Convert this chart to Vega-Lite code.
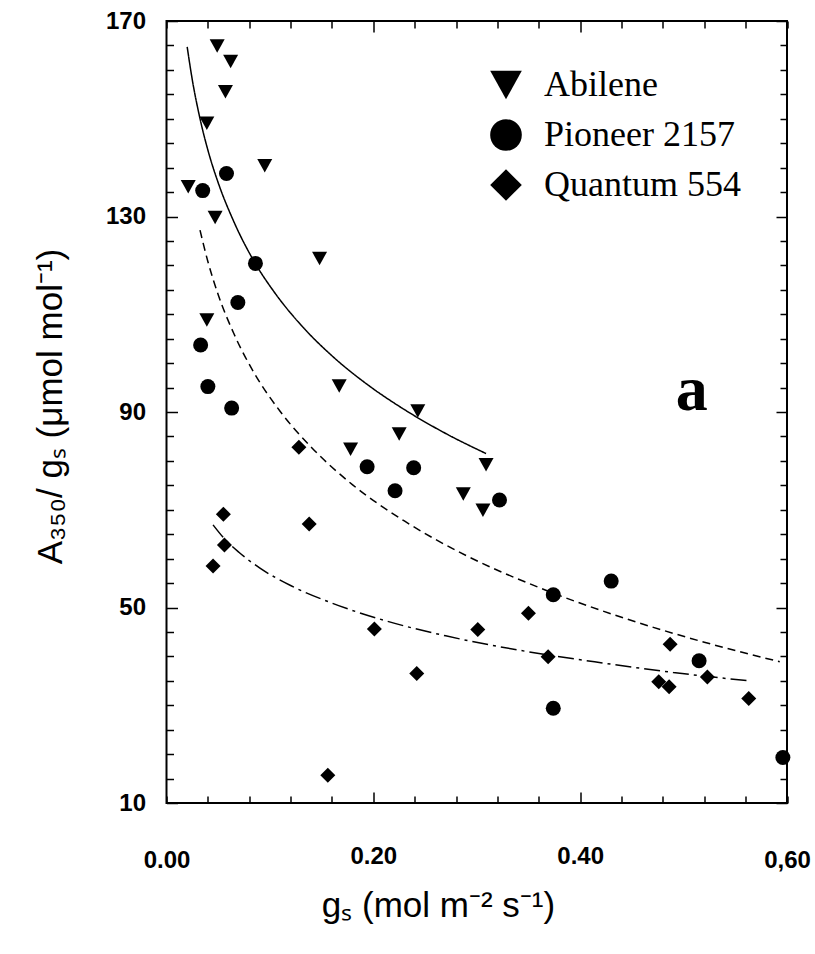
{
  "$schema": "https://vega.github.io/schema/vega-lite/v6.json",
  "width": 620.5,
  "height": 782,
  "autosize": {"type": "none"},
  "padding": {"left": 166.5, "top": 21, "right": 28, "bottom": 151},
  "background": "white",
  "config": {
    "view": {"stroke": "black", "strokeWidth": 2},
    "axis": {"grid": false, "domain": false, "tickColor": "black", "tickWidth": 1.5, "labelColor": "black", "titleColor": "black"}
  },
  "datasets": {
    "points": [
      {"cultivar": "Abilene", "gs": 0.049, "ratio": 164.9},
      {"cultivar": "Abilene", "gs": 0.062, "ratio": 161.7},
      {"cultivar": "Abilene", "gs": 0.057, "ratio": 155.5},
      {"cultivar": "Abilene", "gs": 0.039, "ratio": 149.1},
      {"cultivar": "Abilene", "gs": 0.095, "ratio": 140.4},
      {"cultivar": "Abilene", "gs": 0.021, "ratio": 136.1},
      {"cultivar": "Abilene", "gs": 0.047, "ratio": 129.8},
      {"cultivar": "Abilene", "gs": 0.148, "ratio": 121.4},
      {"cultivar": "Abilene", "gs": 0.039, "ratio": 108.8},
      {"cultivar": "Abilene", "gs": 0.167, "ratio": 95.3},
      {"cultivar": "Abilene", "gs": 0.243, "ratio": 90.2},
      {"cultivar": "Abilene", "gs": 0.225, "ratio": 85.5},
      {"cultivar": "Abilene", "gs": 0.178, "ratio": 82.4},
      {"cultivar": "Abilene", "gs": 0.309, "ratio": 79.2},
      {"cultivar": "Abilene", "gs": 0.287, "ratio": 73.2},
      {"cultivar": "Abilene", "gs": 0.306, "ratio": 69.9},
      {"cultivar": "Pioneer 2157", "gs": 0.058, "ratio": 138.8},
      {"cultivar": "Pioneer 2157", "gs": 0.035, "ratio": 135.3},
      {"cultivar": "Pioneer 2157", "gs": 0.086, "ratio": 120.4},
      {"cultivar": "Pioneer 2157", "gs": 0.069, "ratio": 112.4},
      {"cultivar": "Pioneer 2157", "gs": 0.033, "ratio": 103.7},
      {"cultivar": "Pioneer 2157", "gs": 0.040, "ratio": 95.2},
      {"cultivar": "Pioneer 2157", "gs": 0.063, "ratio": 90.8},
      {"cultivar": "Pioneer 2157", "gs": 0.194, "ratio": 78.8},
      {"cultivar": "Pioneer 2157", "gs": 0.239, "ratio": 78.6},
      {"cultivar": "Pioneer 2157", "gs": 0.221, "ratio": 73.9},
      {"cultivar": "Pioneer 2157", "gs": 0.322, "ratio": 72.0},
      {"cultivar": "Pioneer 2157", "gs": 0.374, "ratio": 52.6},
      {"cultivar": "Pioneer 2157", "gs": 0.430, "ratio": 55.4},
      {"cultivar": "Pioneer 2157", "gs": 0.515, "ratio": 39.1},
      {"cultivar": "Pioneer 2157", "gs": 0.374, "ratio": 29.4},
      {"cultivar": "Pioneer 2157", "gs": 0.596, "ratio": 19.3},
      {"cultivar": "Quantum 554", "gs": 0.128, "ratio": 82.8},
      {"cultivar": "Quantum 554", "gs": 0.055, "ratio": 69.1},
      {"cultivar": "Quantum 554", "gs": 0.138, "ratio": 67.1},
      {"cultivar": "Quantum 554", "gs": 0.056, "ratio": 62.8},
      {"cultivar": "Quantum 554", "gs": 0.045, "ratio": 58.5},
      {"cultivar": "Quantum 554", "gs": 0.201, "ratio": 45.6},
      {"cultivar": "Quantum 554", "gs": 0.242, "ratio": 36.5},
      {"cultivar": "Quantum 554", "gs": 0.156, "ratio": 15.7},
      {"cultivar": "Quantum 554", "gs": 0.301, "ratio": 45.5},
      {"cultivar": "Quantum 554", "gs": 0.350, "ratio": 48.8},
      {"cultivar": "Quantum 554", "gs": 0.369, "ratio": 39.9},
      {"cultivar": "Quantum 554", "gs": 0.487, "ratio": 42.5},
      {"cultivar": "Quantum 554", "gs": 0.476, "ratio": 34.8},
      {"cultivar": "Quantum 554", "gs": 0.486, "ratio": 33.8},
      {"cultivar": "Quantum 554", "gs": 0.523, "ratio": 35.8},
      {"cultivar": "Quantum 554", "gs": 0.563, "ratio": 31.4}
    ],
    "curves": [
      {"cultivar": "Abilene", "gs": 0.020, "ratio": 164.7},
      {"cultivar": "Abilene", "gs": 0.025, "ratio": 157.9},
      {"cultivar": "Abilene", "gs": 0.032, "ratio": 150.4},
      {"cultivar": "Abilene", "gs": 0.040, "ratio": 143.6},
      {"cultivar": "Abilene", "gs": 0.050, "ratio": 136.9},
      {"cultivar": "Abilene", "gs": 0.065, "ratio": 129.0},
      {"cultivar": "Abilene", "gs": 0.085, "ratio": 120.7},
      {"cultivar": "Abilene", "gs": 0.105, "ratio": 114.3},
      {"cultivar": "Abilene", "gs": 0.130, "ratio": 107.8},
      {"cultivar": "Abilene", "gs": 0.160, "ratio": 101.5},
      {"cultivar": "Abilene", "gs": 0.195, "ratio": 95.5},
      {"cultivar": "Abilene", "gs": 0.230, "ratio": 90.5},
      {"cultivar": "Abilene", "gs": 0.270, "ratio": 85.6},
      {"cultivar": "Abilene", "gs": 0.309, "ratio": 81.5},
      {"cultivar": "Pioneer 2157", "gs": 0.0324, "ratio": 127.2},
      {"cultivar": "Pioneer 2157", "gs": 0.040, "ratio": 120.8},
      {"cultivar": "Pioneer 2157", "gs": 0.050, "ratio": 114.0},
      {"cultivar": "Pioneer 2157", "gs": 0.065, "ratio": 106.1},
      {"cultivar": "Pioneer 2157", "gs": 0.085, "ratio": 97.9},
      {"cultivar": "Pioneer 2157", "gs": 0.110, "ratio": 90.1},
      {"cultivar": "Pioneer 2157", "gs": 0.140, "ratio": 82.8},
      {"cultivar": "Pioneer 2157", "gs": 0.180, "ratio": 75.1},
      {"cultivar": "Pioneer 2157", "gs": 0.230, "ratio": 67.7},
      {"cultivar": "Pioneer 2157", "gs": 0.290, "ratio": 60.6},
      {"cultivar": "Pioneer 2157", "gs": 0.360, "ratio": 54.1},
      {"cultivar": "Pioneer 2157", "gs": 0.440, "ratio": 48.0},
      {"cultivar": "Pioneer 2157", "gs": 0.520, "ratio": 42.9},
      {"cultivar": "Pioneer 2157", "gs": 0.593, "ratio": 38.9},
      {"cultivar": "Quantum 554", "gs": 0.045, "ratio": 66.9},
      {"cultivar": "Quantum 554", "gs": 0.055, "ratio": 64.3},
      {"cultivar": "Quantum 554", "gs": 0.070, "ratio": 61.3},
      {"cultivar": "Quantum 554", "gs": 0.090, "ratio": 58.1},
      {"cultivar": "Quantum 554", "gs": 0.120, "ratio": 54.5},
      {"cultivar": "Quantum 554", "gs": 0.160, "ratio": 50.9},
      {"cultivar": "Quantum 554", "gs": 0.210, "ratio": 47.4},
      {"cultivar": "Quantum 554", "gs": 0.270, "ratio": 44.2},
      {"cultivar": "Quantum 554", "gs": 0.340, "ratio": 41.3},
      {"cultivar": "Quantum 554", "gs": 0.420, "ratio": 38.7},
      {"cultivar": "Quantum 554", "gs": 0.490, "ratio": 36.7},
      {"cultivar": "Quantum 554", "gs": 0.563, "ratio": 35.0}
    ],
    "annot": [
      {"gs": 0.508, "ratio": 90.4, "label": "a"}
    ]
  },
  "layer": [
    {
      "data": {"name": "curves"},
      "mark": {"type": "line", "color": "black", "strokeWidth": 1.5, "interpolate": "monotone"},
      "encoding": {
        "x": {"field": "gs", "type": "quantitative", "scale": {"domain": [0, 0.6], "nice": false, "zero": false},
          "axis": {"orient": "top", "values": [0, 0.04, 0.08, 0.12, 0.16, 0.2, 0.24, 0.28, 0.32, 0.36, 0.4, 0.44, 0.48, 0.52, 0.56, 0.6], "labels": false, "title": null,
            "tickSize": {"condition": {"test": "datum.value == 0.2 || datum.value == 0.4", "value": -11}, "value": -7}}},
        "y": {"field": "ratio", "type": "quantitative", "scale": {"domain": [10, 170], "nice": false, "zero": false},
          "axis": {"orient": "right", "values": [10, 15, 20, 25, 30, 35, 40, 45, 50, 55, 60, 65, 70, 75, 80, 85, 90, 95, 100, 105, 110, 115, 120, 125, 130, 135, 140, 145, 150, 155, 160, 165, 170], "labels": false, "title": null,
            "tickSize": {"condition": {"test": "(datum.value - 10) % 40 == 0", "value": -11}, "value": -7}}},
        "detail": {"field": "cultivar", "type": "nominal"},
        "strokeDash": {"field": "dash", "type": "nominal", "scale": {"domain": ["solid", "dashed", "dashdot"], "range": [[1, 0], [8, 5], [16, 5, 3, 5]]}, "legend": null}
      },
      "transform": [
        {"lookup": "cultivar", "from": {"data": {"values": [{"cultivar": "Abilene", "dash": "solid"}, {"cultivar": "Pioneer 2157", "dash": "dashed"}, {"cultivar": "Quantum 554", "dash": "dashdot"}]}, "key": "cultivar", "fields": ["dash"]}}
      ]
    },
    {
      "data": {"name": "points"},
      "mark": {"type": "point", "filled": true, "color": "black", "opacity": 1, "size": 225, "strokeWidth": 0},
      "encoding": {
        "x": {"field": "gs", "type": "quantitative", "scale": {"domain": [0, 0.6], "nice": false, "zero": false},
          "axis": {"orient": "bottom", "values": [0, 0.04, 0.08, 0.12, 0.16, 0.2, 0.24, 0.28, 0.32, 0.36, 0.4, 0.44, 0.48, 0.52, 0.56, 0.6],
            "labelExpr": "datum.value == 0 ? '0.00' : datum.value == 0.2 ? '0.20' : datum.value == 0.4 ? '0.40' : datum.value == 0.6 ? '0,60' : ''",
            "labelFont": "Liberation Sans", "labelFontSize": 24, "labelFontWeight": "bold", "labelPadding": 52, "labelFlush": false, "labelOverlap": false,
            "tickSize": {"condition": {"test": "datum.value == 0.2 || datum.value == 0.4", "value": -11}, "value": -7},
            "title": "gₛ (mol m⁻² s⁻¹)", "titleFont": "Liberation Sans", "titleFontSize": 35, "titleFontWeight": "normal",
            "titleX": 271.5, "titleY": 102, "titleBaseline": "middle", "titleAlign": "center"}},
        "y": {"field": "ratio", "type": "quantitative", "scale": {"domain": [10, 170], "nice": false, "zero": false},
          "axis": {"orient": "left", "values": [10, 15, 20, 25, 30, 35, 40, 45, 50, 55, 60, 65, 70, 75, 80, 85, 90, 95, 100, 105, 110, 115, 120, 125, 130, 135, 140, 145, 150, 155, 160, 165, 170],
            "labelExpr": "(datum.value - 10) % 40 == 0 ? format(datum.value, 'd') : ''",
            "labelFont": "Liberation Sans", "labelFontSize": 24, "labelFontWeight": "bold", "labelPadding": 32, "labelFlush": false, "labelOverlap": false,
            "tickSize": {"condition": {"test": "(datum.value - 10) % 40 == 0", "value": -11}, "value": -7},
            "title": "A₃₅₀/ gₛ  (μmol mol⁻¹)", "titleFont": "Liberation Sans", "titleFontSize": 35, "titleFontWeight": "normal",
            "titleX": -116.5, "titleY": 385, "titleBaseline": "middle", "titleAlign": "center", "titleAngle": -90}},
        "shape": {"field": "cultivar", "type": "nominal", "scale": {"domain": ["Abilene", "Pioneer 2157", "Quantum 554"], "range": ["M-1,-0.9L1,-0.9L0,0.9Z", "circle", "diamond"]},
          "legend": {"title": null, "orient": "none", "legendX": 321.5, "legendY": 46, "padding": 0,
            "labelFont": "Liberation Serif", "labelFontSize": 36, "labelColor": "black", "labelLimit": 400, "labelOffset": 20,
            "symbolSize": 1000, "symbolStrokeWidth": 0, "symbolFillColor": "black", "symbolOpacity": 1, "rowPadding": 14,
            "encode": {"symbols": {"update": {
              "shape": {"signal": "datum.value === 'Abilene' ? 'M-0.75,-1L0.75,-1L0,1Z' : datum.value === 'Pioneer 2157' ? 'circle' : 'diamond'"},
              "size": {"signal": "datum.value === 'Abilene' ? 1400 : datum.value === 'Pioneer 2157' ? 740 : 1000"}}}}}}
      }
    },
    {
      "data": {"name": "annot"},
      "mark": {"type": "text", "font": "Liberation Serif", "fontSize": 64, "fontWeight": "bold", "align": "center", "baseline": "alphabetic", "color": "black"},
      "encoding": {
        "x": {"field": "gs", "type": "quantitative", "axis": null},
        "y": {"field": "ratio", "type": "quantitative", "axis": null},
        "text": {"field": "label"}
      }
    }
  ],
  "resolve": {"axis": {"x": "independent", "y": "independent"}}
}
